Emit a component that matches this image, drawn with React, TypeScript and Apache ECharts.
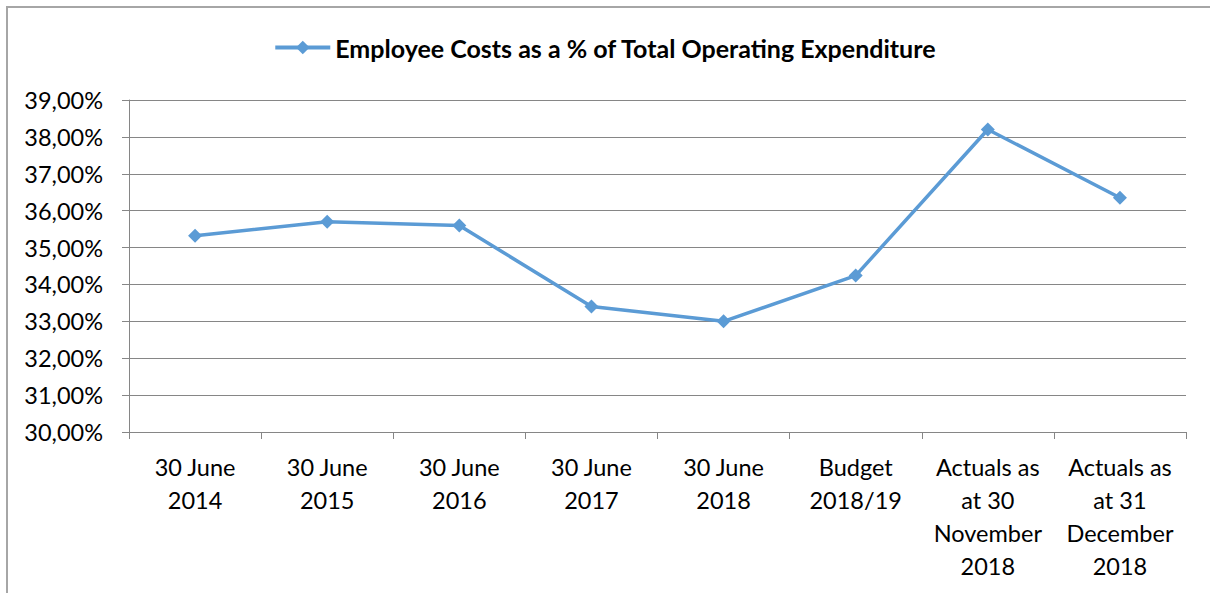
import React, { useEffect, useRef } from "react";
import * as echarts from "echarts";

const categories = [
  "30 June\n2014",
  "30 June\n2015",
  "30 June\n2016",
  "30 June\n2017",
  "30 June\n2018",
  "Budget\n2018/19",
  "Actuals as\nat 30\nNovember\n2018",
  "Actuals as\nat 31\nDecember\n2018",
];
const seriesName = "Employee Costs as a % of Total Operating Expenditure";
const values = [35.32, 35.7, 35.6, 33.4, 33.0, 34.24, 38.2, 36.35];
const yMin = 30;
const yMax = 39;
const yInterval = 1;

export default function App() {
  const ref = useRef<HTMLDivElement>(null);
  useEffect(() => {
    if (!ref.current) return;
    const chart = echarts.init(ref.current, null, { renderer: "svg" });
    const font = "Lato, 'Open Sans', sans-serif";
    chart.setOption({
      animation: false,
      backgroundColor: "#ffffff",
      textStyle: { fontFamily: font },
      graphic: [
        {
          type: "line",
          shape: { x1: 6, y1: 7, x2: 1210, y2: 7 },
          style: { stroke: "#A6A6A6", lineWidth: 2 },
          silent: true,
        },
        {
          type: "line",
          shape: { x1: 7, y1: 6, x2: 7, y2: 593 },
          style: { stroke: "#A6A6A6", lineWidth: 2 },
          silent: true,
        },
      ],
      legend: {
        data: [seriesName],
        top: 30,
        left: "center",
        itemWidth: 55,
        itemHeight: 17,
        itemGap: 10,
        lineStyle: { width: 4 },
        textStyle: {
          fontFamily: font,
          fontWeight: "bold",
          fontSize: 25,
          color: "#000000",
        },
      },
      grid: { left: 129, right: 24, top: 100, bottom: 161, containLabel: false },
      xAxis: {
        type: "category",
        data: categories,
        boundaryGap: true,
        axisLine: { show: true, lineStyle: { color: "#868686", width: 1 } },
        axisTick: {
          show: true,
          alignWithLabel: false,
          length: 7,
          lineStyle: { color: "#868686" },
        },
        axisLabel: {
          interval: 0,
          margin: 18,
          color: "#000000",
          fontFamily: font,
          fontSize: 23.5,
          lineHeight: 33,
        },
        splitLine: { show: false },
      },
      yAxis: {
        type: "value",
        min: yMin,
        max: yMax,
        interval: yInterval,
        axisLine: { show: true, lineStyle: { color: "#868686", width: 1 } },
        axisTick: { show: true, length: 7, lineStyle: { color: "#868686" } },
        axisLabel: {
          margin: 26,
          color: "#000000",
          fontFamily: font,
          fontSize: 23.5,
          formatter: (v: number) => v.toFixed(2).replace(".", ",") + "%",
        },
        splitLine: { show: true, lineStyle: { color: "#868686", width: 1 } },
      },
      series: [
        {
          name: seriesName,
          type: "line",
          data: values,
          symbol: "diamond",
          symbolSize: 14,
          lineStyle: { color: "#5B9BD5", width: 3.5 },
          itemStyle: { color: "#5B9BD5" },
        },
      ],
    });
    return () => chart.dispose();
  }, []);
  return (
    <div
      ref={ref}
      style={{ position: "absolute", left: 0, top: 0, width: 1210, height: 593 }}
    />
  );
}
